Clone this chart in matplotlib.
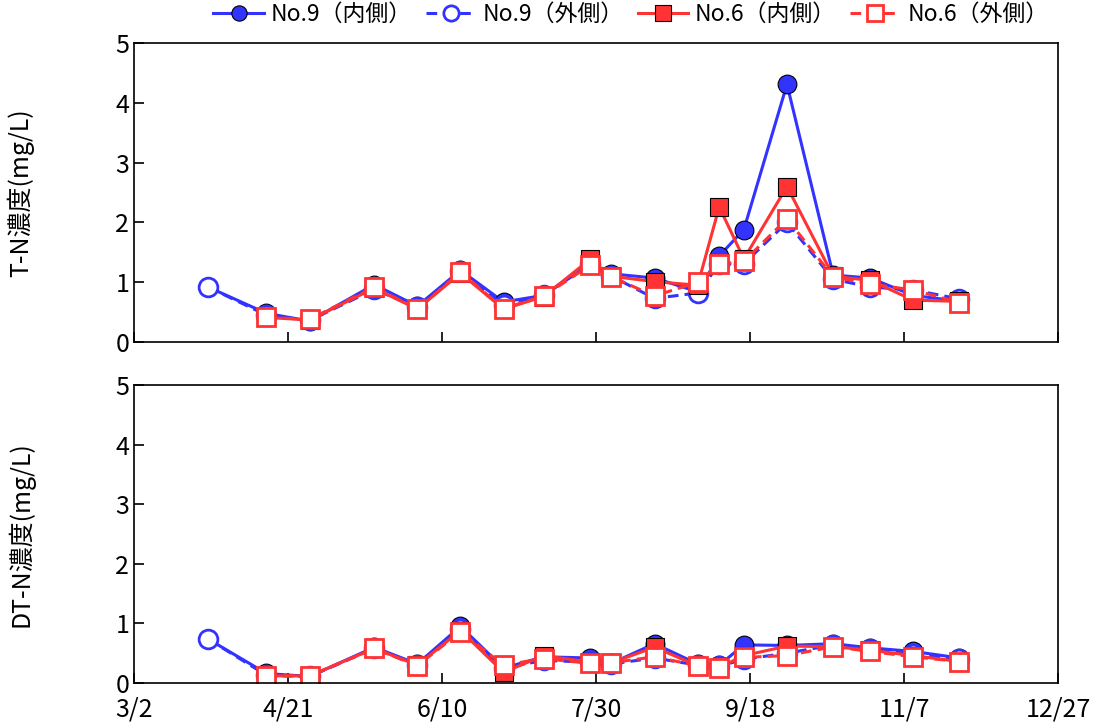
import matplotlib.pyplot as plt
import pandas as pd
import numpy as np

plt.rcParams['font.family'] = ['Noto Sans CJK JP', 'DejaVu Sans']

nan = np.nan
# sampling dates (m/d)
dates = ['3/26', '4/14', '4/28', '5/19', '6/2', '6/16', '6/30', '7/13', '7/28', '8/4',
         '8/18', '9/1', '9/8', '9/16', '9/30', '10/15', '10/27', '11/10', '11/25']

# T-N (mg/L)
tn_no9_in = [0.92, 0.48, 0.35, 0.96, 0.60, 1.20, 0.67, 0.78, 1.32, 1.14,
             1.07, 0.84, 1.44, 1.88, 4.31, 1.12, 1.07, 0.78, 0.68]
tn_no9_out = [0.92, 0.45, 0.36, 0.88, 0.58, 1.18, 0.62, 0.78, 1.30, 1.10,
              0.73, 0.82, 1.30, 1.31, 2.00, 1.05, 0.92, 0.87, 0.72]
tn_no6_in = [nan, 0.41, 0.37, 0.90, 0.55, 1.15, 0.55, 0.76, 1.38, 1.10,
             1.01, 0.95, 2.26, 1.39, 2.60, 1.10, 1.03, 0.70, 0.68]
tn_no6_out = [nan, 0.41, 0.38, 0.92, 0.55, 1.17, 0.56, 0.77, 1.28, 1.09,
              0.77, 1.00, 1.30, 1.35, 2.06, 1.09, 0.97, 0.87, 0.66]

# DT-N (mg/L)
dtn_no9_in = [0.74, 0.16, 0.11, 0.60, 0.32, 0.95, 0.25, 0.44, 0.42, 0.33,
              0.66, 0.32, 0.30, 0.64, 0.63, 0.66, 0.59, 0.53, 0.42]
dtn_no9_out = [0.74, 0.13, 0.11, 0.58, 0.30, 0.90, 0.25, 0.38, 0.35, 0.32,
               0.42, 0.30, 0.28, 0.40, 0.50, 0.64, 0.57, 0.48, 0.40]
dtn_no6_in = [nan, 0.12, 0.12, 0.58, 0.30, 0.88, 0.18, 0.46, 0.35, 0.34,
              0.60, 0.29, 0.26, 0.46, 0.62, 0.61, 0.55, 0.46, 0.36]
dtn_no6_out = [nan, 0.12, 0.12, 0.58, 0.29, 0.86, 0.30, 0.41, 0.33, 0.34,
               0.44, 0.29, 0.25, 0.43, 0.46, 0.61, 0.53, 0.44, 0.36]

tick_labels = ['3/2', '4/21', '6/10', '7/30', '9/18', '11/7', '12/27']
labels = ['No.9（内側）', 'No.9（外側）', 'No.6（内側）', 'No.6（外側）']

x = pd.to_datetime(['2015/' + d for d in dates])
ticks = pd.to_datetime(['2015/' + t for t in tick_labels])

blue = '#3333ff'
red = '#ff3333'
dash = (0, (3.5, 2))

fig = plt.figure(figsize=(11.02, 7.24), dpi=100)
ax1 = fig.add_axes([0.1216, 0.5276, 0.8385, 0.413])
ax2 = fig.add_axes([0.1216, 0.0566, 0.8385, 0.4116])


def draw(ax, a, b, c, d):
    h = []
    h += ax.plot(x, a, color=blue, lw=2.2, marker='o', ms=13.5, mfc=blue, mec='black', mew=0.8)
    h += ax.plot(x, b, color=blue, lw=2.2, ls=dash, marker='o', ms=13.5, mfc='white', mec=blue, mew=2)
    h += ax.plot(x, c, color=red, lw=2.2, marker='s', ms=13.5, mfc=red, mec='black', mew=0.8)
    h += ax.plot(x, d, color=red, lw=2.2, ls=dash, marker='s', ms=13.5, mfc='white', mec=red, mew=2)
    ax.set_xlim(ticks[0], ticks[-1])
    ax.set_ylim(0, 5)
    ax.set_xticks(ticks)
    ax.set_yticks([0, 1, 2, 3, 4, 5])
    ax.tick_params(direction='in', length=7, width=1.2, labelsize=18)
    ax.tick_params(axis='x', pad=10)
    for s in ax.spines.values():
        s.set_linewidth(1.2)
    return h


handles = draw(ax1, tn_no9_in, tn_no9_out, tn_no6_in, tn_no6_out)
draw(ax2, dtn_no9_in, dtn_no9_out, dtn_no6_in, dtn_no6_out)
ax1.set_xticklabels([])
ax2.set_xticklabels(tick_labels)
ax1.set_ylabel('T-N濃度(mg/L)', fontsize=18)
ax2.set_ylabel('DT-N濃度(mg/L)', fontsize=18)
ax1.yaxis.set_label_coords(-0.108, 0.5)
ax2.yaxis.set_label_coords(-0.108, 0.5)

for h in handles:
    h.set_markersize(11)
fig.legend(handles, labels, loc='upper right', bbox_to_anchor=(0.97, 1.025), ncol=4,
           frameon=False, fontsize=16.5, handlelength=2.2, handletextpad=0.3, columnspacing=0.6)
for h in handles:
    h.set_markersize(13.5)

fig.savefig('out.png', dpi=100)
